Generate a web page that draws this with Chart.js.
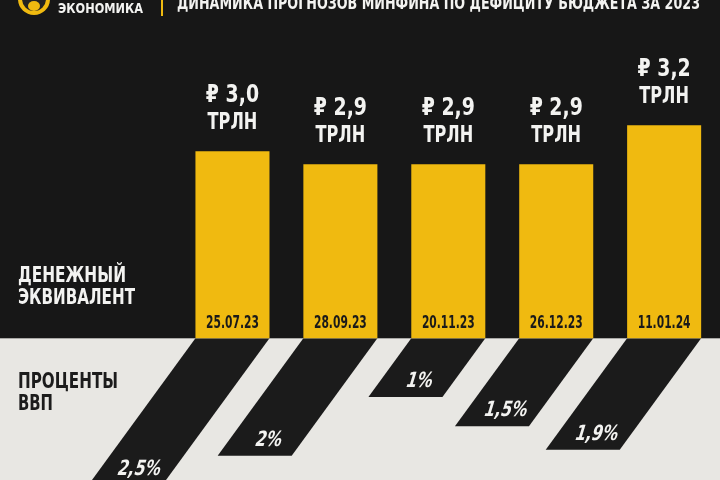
<!DOCTYPE html>
<html>
<head>
<meta charset="utf-8">
<script src="https://cdn.jsdelivr.net/npm/chart.js@4"></script>
<style>
  html, body { margin: 0; padding: 0; background: #171717; }
  canvas { display: block; }
</style>
</head>
<body>
<canvas id="chart" width="720" height="480"></canvas>
<script>
// даты прогнозов Минфина
const forecastDates = ['25.07.23', '28.09.23', '20.11.23', '26.12.23', '11.01.24'];
// дефицит бюджета, трлн рублей
const deficitTrillion = [3.0, 2.9, 2.9, 2.9, 3.2];
// дефицит бюджета, % ВВП
const deficitGdpPercent = [2.5, 2.0, 1.0, 1.5, 1.9];

const headerTitle = 'ДИНАМИКА ПРОГНОЗОВ МИНФИНА ПО ДЕФИЦИТУ БЮДЖЕТА ЗА 2023';
const brandName = 'ЭКОНОМИКА';
const moneyLabel = ['ДЕНЕЖНЫЙ', 'ЭКВИВАЛЕНТ'];
const gdpLabel = ['ПРОЦЕНТЫ', 'ВВП'];
const unitLabel = 'ТРЛН';

const DARK = '#171717';
const LIGHT = '#e8e7e3';
const YELLOW = '#f0ba10';
const SLAB = '#1b1b1b';
const WHITE = '#f3f3f1';
const FONT = '"DejaVu Sans Condensed", "Liberation Sans Narrow", sans-serif';
const SKEW = 0.73;

const fmtMoney = v => v.toFixed(1).replace('.', ',');
const fmtPct = v => String(v).replace('.', ',') + '%';

// текст, сжатый по горизонтали (узкий шрифт как в оригинале)
function squeezed(ctx, text, x, y, size, sx, slant) {
  ctx.save();
  ctx.translate(x, y);
  if (slant) ctx.transform(1, 0, -slant, 1, 0, 0);
  ctx.scale(sx, 1);
  ctx.font = `bold ${size}px ${FONT}`;
  ctx.fillText(text, 0, 0);
  ctx.restore();
}

const infographic = {
  id: 'infographic',
  beforeDraw(chart) {
    const ctx = chart.ctx;
    const y0 = chart.scales.y2.top;
    ctx.save();
    ctx.fillStyle = DARK;
    ctx.fillRect(0, 0, chart.width, y0);
    ctx.fillStyle = LIGHT;
    ctx.fillRect(0, y0, chart.width, chart.height - y0);
    ctx.restore();
  },
  beforeDatasetDraw(chart, args) {
    if (args.index !== 1) return;
    const ctx = chart.ctx;
    const y0 = chart.scales.y2.top;
    ctx.save();
    // наклон плашек процентов ВВП
    ctx.transform(1, 0, -SKEW, 1, SKEW * y0, 0);
  },
  afterDatasetDraw(chart, args) {
    if (args.index !== 1) return;
    chart.ctx.restore();
  },
  afterDatasetsDraw(chart) {
    const ctx = chart.ctx;
    const sx = chart.scales.x;
    const sy = chart.scales.y;
    const sy2 = chart.scales.y2;
    const y0 = sy2.top;

    ctx.save();
    ctx.textAlign = 'center';
    ctx.textBaseline = 'alphabetic';

    deficitTrillion.forEach((v, i) => {
      const x = sx.getPixelForValue(i);
      const top = sy.getPixelForValue(v);
      ctx.fillStyle = WHITE;
      squeezed(ctx, '₽ ' + fmtMoney(v), x, top - 49, 25, 0.84);
      squeezed(ctx, unitLabel, x, top - 22, 23, 0.78);

      ctx.fillStyle = '#1a1a1a';
      squeezed(ctx, forecastDates[i], x, sy.bottom - 10, 17, 0.7);
    });

    ctx.fillStyle = WHITE;
    deficitGdpPercent.forEach((v, i) => {
      const x = sx.getPixelForValue(i);
      const end = sy2.getPixelForValue(v);
      const base = end - 10;
      const cx = x - SKEW * (base - 7 - y0);
      squeezed(ctx, fmtPct(v), cx, base, 21, 0.82, 0.3);
    });
    ctx.restore();
  },
  afterDraw(chart) {
    const ctx = chart.ctx;
    ctx.save();

    // логотип
    ctx.fillStyle = YELLOW;
    ctx.beginPath();
    ctx.arc(34, -1, 16, 0, Math.PI * 2);
    ctx.fill();
    ctx.fillStyle = '#222';
    ctx.beginPath();
    ctx.arc(34, -1, 12, 0, Math.PI * 2);
    ctx.fill();
    ctx.fillStyle = YELLOW;
    ctx.beginPath();
    ctx.ellipse(34, 6, 6, 5, 0, 0, Math.PI * 2);
    ctx.fill();

    ctx.fillStyle = WHITE;
    ctx.textAlign = 'left';
    ctx.font = `bold 14px ${FONT}`;
    ctx.fillText(brandName, 58, 13, 85);

    ctx.fillStyle = YELLOW;
    ctx.fillRect(161, 0, 2, 16);

    ctx.fillStyle = WHITE;
    ctx.font = `bold 18px ${FONT}`;
    ctx.fillText(headerTitle, 177, 9, 523);

    // подписи рядов
    ctx.font = `bold 22px ${FONT}`;
    ctx.fillText(moneyLabel[0], 18, 282, 108);
    ctx.fillText(moneyLabel[1], 18, 303.5, 117);
    ctx.fillStyle = '#1c1c1c';
    ctx.fillText(gdpLabel[0], 18, 388, 100);
    ctx.fillText(gdpLabel[1], 18, 410, 35);

    ctx.restore();
  }
};

new Chart(document.getElementById('chart'), {
  type: 'bar',
  data: {
    labels: forecastDates,
    datasets: [
      {
        label: 'трлн руб.',
        data: deficitTrillion,
        yAxisID: 'y',
        backgroundColor: YELLOW,
        grouped: false,
        barPercentage: 0.686,
        categoryPercentage: 1,
      },
      {
        label: '% ВВП',
        data: deficitGdpPercent,
        yAxisID: 'y2',
        backgroundColor: SLAB,
        grouped: false,
        barPercentage: 0.686,
        categoryPercentage: 1,
      },
    ],
  },
  options: {
    responsive: false,
    animation: false,
    events: [],
    layout: {
      padding: { top: 0, right: 1.9, bottom: 0, left: 178.5 },
    },
    scales: {
      x: {
        type: 'category',
        display: false,
        grid: { display: false },
      },
      y: {
        type: 'linear',
        position: 'left',
        stack: 'panels',
        stackWeight: 338.3,
        weight: 1,
        min: 1.56,
        max: 4.164,
        display: false,
      },
      y2: {
        type: 'linear',
        position: 'left',
        stack: 'panels',
        stackWeight: 141.7,
        weight: 0,
        reverse: true,
        min: 0,
        max: 2.414,
        display: false,
      },
    },
    plugins: {
      legend: { display: false },
      tooltip: { enabled: false },
      title: { display: false },
    },
  },
  plugins: [infographic],
});
</script>
</body>
</html>
